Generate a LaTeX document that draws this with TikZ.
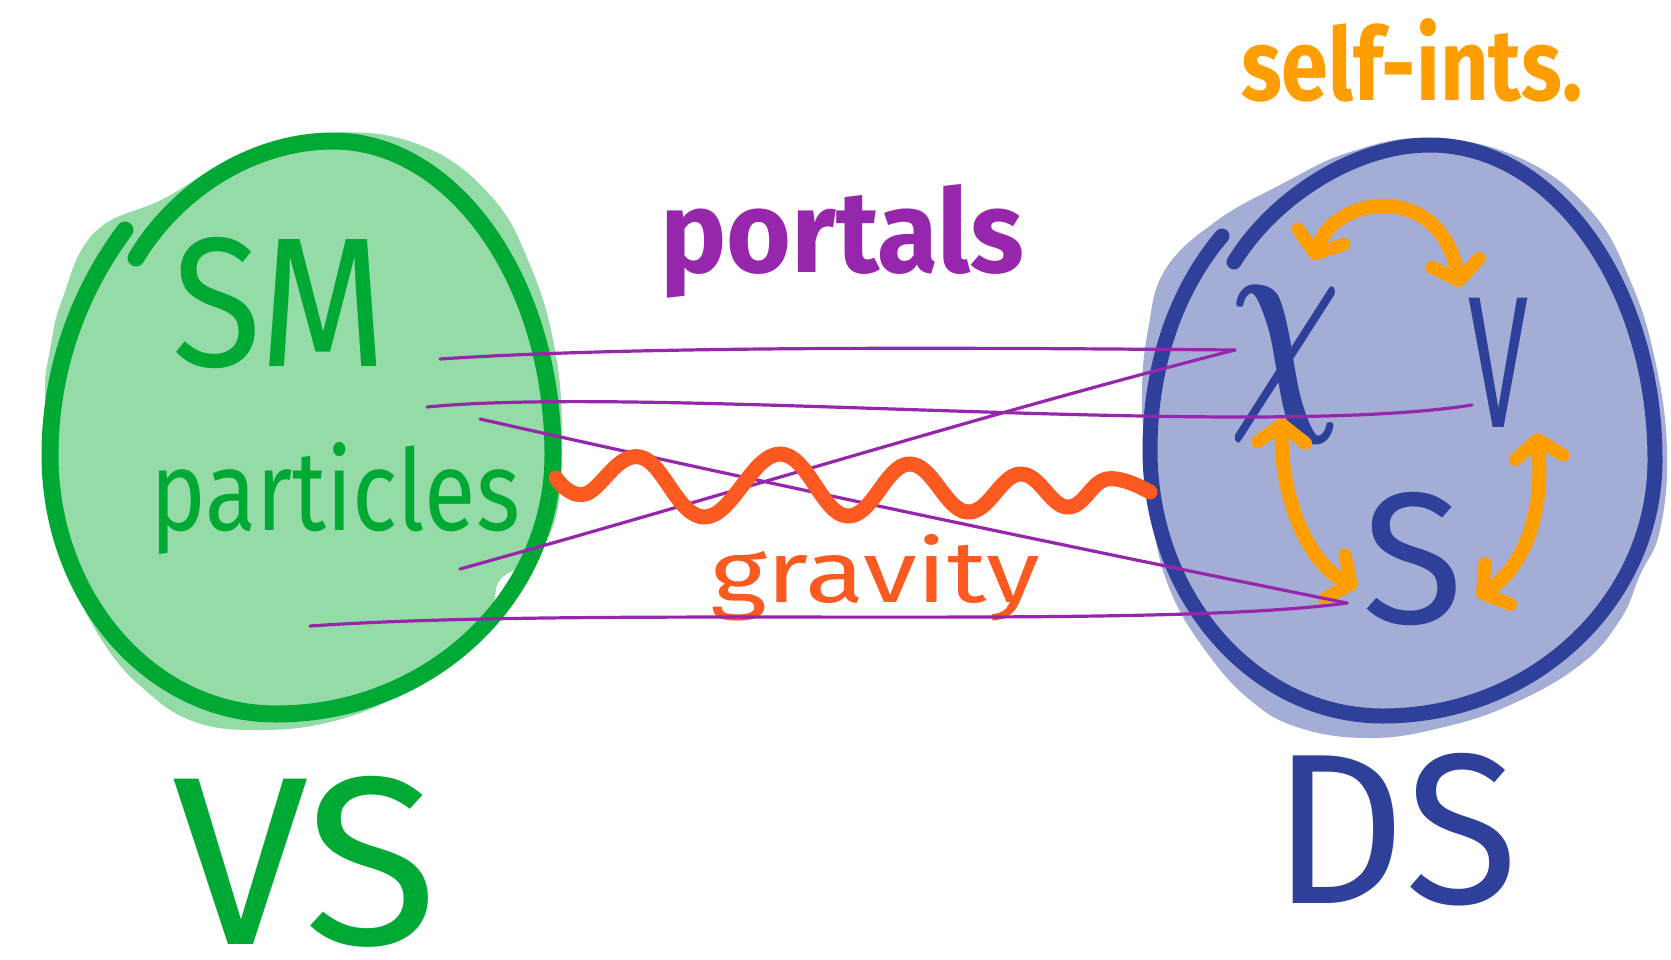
\documentclass[tikz,border=0pt]{standalone}
\usepackage{fontspec}
\usepackage{graphicx}
\setmainfont{Fira Sans}
\usetikzlibrary{arrows.meta}
\definecolor{gline}{RGB}{0,169,51}
\definecolor{gfill}{RGB}{149,219,167}
\definecolor{bline}{RGB}{46,64,154}
\definecolor{bfill}{RGB}{163,173,213}
\definecolor{purp}{RGB}{150,38,172}
\definecolor{orng}{RGB}{255,158,0}
\definecolor{grav}{RGB}{252,90,32}
\tikzset{
  lbl/.style={inner sep=0pt, outer sep=0pt},
  grim/.style={draw=gline, line width=17pt},
  brim/.style={draw=bline, line width=15pt},
  portal/.style={draw=purp, line width=3.2pt},
  wave/.style={draw=grav, line width=15pt},
  barb/.tip={Straight Barb[length=18pt,width=48pt,line width=13pt,round]},
  selfint/.style={draw=orng, line width=14pt, barb-barb},
}
\begin{document}
\begin{tikzpicture}[x=1pt,y=-1pt,line cap=round,line join=round]
\useasboundingbox (0,0) rectangle (1671,959);
\fill[white] (0,0) rectangle (1671,959);
% fills
\fill[gfill] plot[smooth cycle,tension=0.7] coordinates {(95,232) (165,198) (240,155) (330,133) (420,145) (490,195) (530,265) (555,350) (562,440) (555,520) (528,560) (500,580) (490,610) (455,655) (395,697) (330,722) (260,730) (195,722) (145,690) (105,645) (72,580) (55,510) (50,440) (45,390) (50,350) (62,300)};
\fill[bfill] plot[smooth cycle,tension=0.7] coordinates {(1165,270) (1215,222) (1280,185) (1350,152) (1430,138) (1520,158) (1590,210) (1630,280) (1655,360) (1667,450) (1660,530) (1640,575) (1620,620) (1580,665) (1510,705) (1440,728) (1370,738) (1300,728) (1250,700) (1205,650) (1170,590) (1152,520) (1145,450) (1142,390) (1148,330)};
% outlines
\draw[grim] (125,230) .. controls (80,290) and (50,368) .. (50,455)
  .. controls (50,598) and (151,714) .. (276,714)
  .. controls (429,714) and (553,598) .. (553,455)
  .. controls (553,282) and (454,141) .. (333,141)
  .. controls (255,141) and (178,188) .. (136,258);
\draw[brim] (1222,236) .. controls (1176,290) and (1150,366) .. (1150,450)
  .. controls (1150,597) and (1254,716) .. (1383,716)
  .. controls (1533,716) and (1655,601) .. (1655,460)
  .. controls (1655,286) and (1554,145) .. (1430,145)
  .. controls (1352,145) and (1272,200) .. (1234,262);
% labels
\node[lbl,anchor=base west,text=orng] (selfints) at (1241,100) {\resizebox{341pt}{82pt}{\bfseries self-ints.}};
\node[lbl,anchor=base west,text=purp] (portals) at (660,272) {\resizebox{364pt}{88pt}{\bfseries portals}};
\node[lbl,anchor=base west,text=gline] (SM) at (172,366) {\resizebox{215pt}{129pt}{SM}};
\node[lbl,anchor=base west,text=gline] (particles) at (150,530) {\resizebox{370pt}{88pt}{particles}};
\node[lbl,anchor=base west,text=grav] (gravity) at (710,602) {\resizebox{330pt}{68pt}{gravity}};
\node[lbl,anchor=base west,text=gline] (VS) at (172,944) {\resizebox{266pt}{168pt}{VS}};
\node[lbl,anchor=base west,text=bline] (DS) at (1272,903) {\resizebox{246pt}{150pt}{DS}};
\node[lbl,text=bline] (chi) at (1285,365) {\resizebox*{112pt}{156pt}{\boldmath$\chi$}};
\node[lbl,anchor=base west,text=bline] (V) at (1468,427) {\resizebox{60pt}{129pt}{V}};
\node[lbl,anchor=base west,text=bline] (S) at (1362,623) {\resizebox{101pt}{131pt}{S}};
% self-interaction arrows
\coordinate (a1s) at (1313,260); \coordinate (a1e) at (1460,287);
\coordinate (a2s) at (1282,418); \coordinate (a2e) at (1357,587);
\coordinate (a3s) at (1537,433); \coordinate (a3e) at (1477,597);
\draw[selfint] (a1s) .. controls (1335,195) and (1440,180) .. (a1e);
\draw[selfint] (a2s) .. controls (1280,500) and (1310,565) .. (a2e);
\draw[selfint] (a3s) .. controls (1545,520) and (1520,570) .. (a3e);
% portals
\coordinate (sm1) at (440,359); \coordinate (sm2) at (427,407);
\coordinate (sm3) at (480,419); \coordinate (sm4) at (460,569);
\coordinate (sm5) at (310,626);
\coordinate (chiA) at (1235,350); \coordinate (vA) at (1472,405);
\coordinate (sA) at (1347,603);
\draw[portal] (sm1) .. controls (650,345) and (1000,348) .. (chiA);
\draw[portal] (sm2) .. controls (650,385) and (1250,440) .. (vA);
\draw[portal] (sm3) .. controls (760,482) and (1060,545) .. (sA);
\draw[portal] (sm4) .. controls (720,497) and (980,415) .. (chiA);
\draw[portal] (sm5) .. controls (600,606) and (1150,630) .. (sA);
% gravity wave
\draw[wave] plot[smooth,tension=0.7] coordinates {(556,478) (585,494) (640,457) (705,517) (780,454) (847,516) (909,464) (967,512) (1020,474) (1067,507) (1107,479) (1150,492)};
\end{tikzpicture}
\end{document}
